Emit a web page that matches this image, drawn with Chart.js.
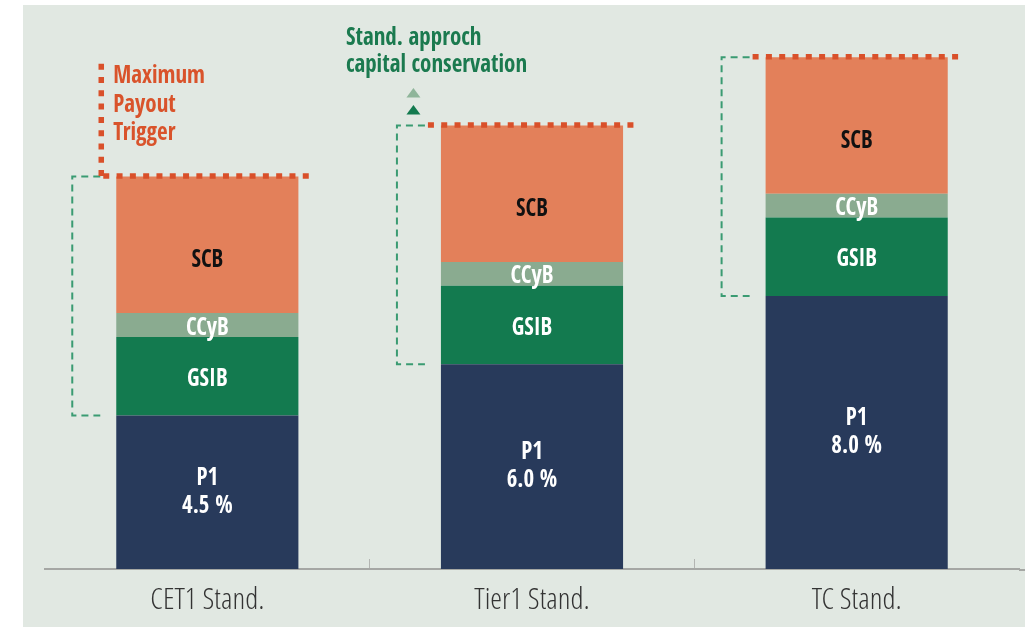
<!DOCTYPE html>
<html>
<head>
<meta charset="utf-8">
<script src="https://cdn.jsdelivr.net/npm/chart.js@4.4.1/dist/chart.umd.min.js"></script>
<style>
    html, body { margin: 0; padding: 0; background: #fff; }
    canvas { display: block; }
</style>
</head>
<body>
<canvas id="capitalChart" width="1025" height="627"></canvas>
<script>
// ===== DATA =====
const categories = ['CET1 Stand.', 'Tier1 Stand.', 'TC Stand.'];
const p1Values   = [4.5, 6.0, 8.0];
const gsibValues = [2.3, 2.3, 2.3];
const ccybValues = [0.7, 0.7, 0.7];
const scbValues  = [4.0, 4.0, 4.0];
const yMax       = 16.5;

const COND  = "'Open Sans Condensed', 'Open Sans', sans-serif";
const LIGHT = "'Open Sans Condensed Light', 'Open Sans Condensed', 'Open Sans', sans-serif";

// condensed bold text, squeezed a little more to match the print
function label(ctx, text, x, y) {
    ctx.save();
    ctx.translate(x, y + 3);
    ctx.scale(0.92, 1);
    ctx.fillText(text, 0, 0);
    ctx.restore();
}

// ===== ANNOTATIONS (drawn on top of the bars) =====
const annotations = {
    id: 'annotations',
    beforeDraw(chart) {
        const ctx = chart.ctx;
        ctx.save();
        ctx.fillStyle = '#fff';
        ctx.fillRect(0, 0, chart.width, chart.height);
        ctx.fillStyle = '#e1e8e2';
        ctx.fillRect(23, 5, chart.width - 23, chart.height - 5);
        ctx.restore();
    },
    afterDraw(chart) {
        // axis line runs on to the right edge of the panel
        const ctx = chart.ctx;
        const a = chart.chartArea;
        ctx.save();
        ctx.strokeStyle = '#a5a7a4';
        ctx.lineWidth = 2;
        ctx.beginPath();
        ctx.moveTo(a.right, a.bottom + 1);
        ctx.lineTo(chart.width, a.bottom + 1);
        ctx.stroke();
        ctx.restore();
    },
    afterDatasetsDraw(chart) {
        const ctx = chart.ctx;
        const metas = chart.data.datasets.map((_, d) => chart.getDatasetMeta(d));
        const last = metas.length - 1;

        ctx.save();
        ctx.textAlign = 'center';
        ctx.textBaseline = 'middle';
        ctx.font = 'bold 25px ' + COND;

        categories.forEach((cat, i) => {
            const top = metas[last].data[i];
            const p1 = metas[0].data[i];
            const left = top.x - top.width / 2;
            const right = top.x + top.width / 2;

            // segment labels
            metas.forEach((meta, d) => {
                const el = meta.data[i];
                const mid = (el.y + el.base) / 2;
                const name = chart.data.datasets[d].label;
                if (name === 'P1') {
                    ctx.fillStyle = '#fff';
                    label(ctx, 'P1', el.x, mid - 17);
                    label(ctx, p1Values[i].toFixed(1) + ' %', el.x, mid + 11);
                } else if (name === 'SCB') {
                    ctx.fillStyle = '#111';
                    label(ctx, name, el.x, mid + 13);
                } else {
                    ctx.fillStyle = '#fff';
                    label(ctx, name, el.x, mid);
                }
            });

            // green dashed bracket around the buffer
            const bx = left - 44;
            ctx.strokeStyle = '#3a9b72';
            ctx.lineWidth = 2;
            ctx.setLineDash([7, 5]);
            ctx.beginPath();
            ctx.moveTo(left - 16, top.y);
            ctx.lineTo(bx, top.y);
            ctx.lineTo(bx, p1.y);
            ctx.lineTo(left - 16, p1.y);
            ctx.stroke();

            // red dotted maximum payout trigger line
            ctx.strokeStyle = '#d9502a';
            ctx.lineWidth = 5.5;
            ctx.setLineDash([6, 7.3]);
            ctx.beginPath();
            ctx.moveTo(left - 13, top.y - 0.5);
            ctx.lineTo(right + 11, top.y - 0.5);
            ctx.stroke();

            if (i === 0) {
                ctx.beginPath();
                ctx.moveTo(left - 15, top.y - 0.5);
                ctx.lineTo(left - 15, top.y - 116);
                ctx.stroke();

                ctx.setLineDash([]);
                ctx.fillStyle = '#d9532b';
                ctx.textAlign = 'left';
                ['Maximum', 'Payout', 'Trigger'].forEach((t, k) => {
                    label(ctx, t, left - 3, top.y - 103 + k * 28.5);
                });
                ctx.textAlign = 'center';
            }

            if (i === 1) {
                ctx.setLineDash([]);
                const tx = bx + 16.5;
                [['#8fb59a', top.y - 28], ['#137a4f', top.y - 11]].forEach(([c, yb]) => {
                    ctx.fillStyle = c;
                    ctx.beginPath();
                    ctx.moveTo(tx - 7, yb);
                    ctx.lineTo(tx + 7, yb);
                    ctx.lineTo(tx, yb - 9.5);
                    ctx.closePath();
                    ctx.fill();
                });

                ctx.fillStyle = '#1b7a4f';
                ctx.textAlign = 'left';
                label(ctx, 'Stand. approch', left - 95, top.y - 90);
                label(ctx, 'capital conservation', left - 95, top.y - 63);
                ctx.textAlign = 'center';
            }
        });
        ctx.restore();
    }
};

new Chart(document.getElementById('capitalChart').getContext('2d'), {
    type: 'bar',
    data: {
        labels: categories,
        datasets: [
            { label: 'P1',   data: p1Values,   backgroundColor: '#283a5b' },
            { label: 'GSIB', data: gsibValues, backgroundColor: '#137a4f' },
            { label: 'CCyB', data: ccybValues, backgroundColor: '#8aab90' },
            { label: 'SCB',  data: scbValues,  backgroundColor: '#e3805a' }
        ]
    },
    options: {
        responsive: false,
        animation: false,
        datasets: {
            bar: { barPercentage: 0.561, categoryPercentage: 1, borderWidth: 0 }
        },
        layout: { padding: { top: 6, left: 45, right: 6, bottom: 0 } },
        plugins: {
            legend: { display: false },
            tooltip: { enabled: false }
        },
        scales: {
            x: {
                stacked: true,
                grid: {
                    offset: true,
                    drawOnChartArea: false,
                    tickLength: -10,
                    tickWidth: 1,
                    tickColor: c => (c.index === 1 || c.index === 2) ? '#b3b5b2' : 'rgba(0,0,0,0)'
                },
                border: { display: true, color: '#a5a7a4', width: 2 },
                ticks: {
                    color: '#333',
                    padding: 24,
                    font: { family: LIGHT, size: 30, weight: 300 }
                },
                afterFit: s => { s.height = 58; }
            },
            y: { stacked: true, display: false, min: 0, max: yMax }
        }
    },
    plugins: [annotations]
});
</script>
</body>
</html>
